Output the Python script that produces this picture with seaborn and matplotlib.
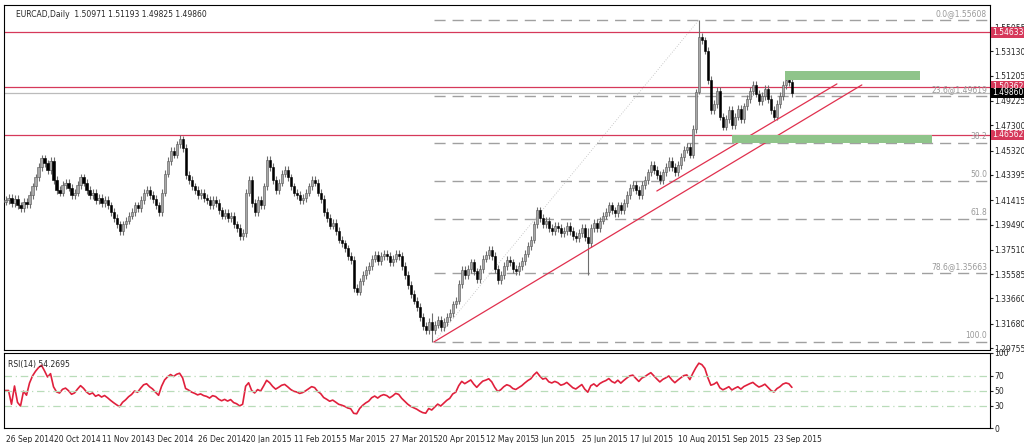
import numpy as np
import pandas as pd
import matplotlib
matplotlib.use("Agg")
import matplotlib.pyplot as plt
import seaborn as sns

############ data ############
closes = [
    1.414, 1.416, 1.412, 1.415, 1.410, 1.408, 1.413, 1.411, 1.418, 1.425, 1.432,
    1.440, 1.447, 1.443, 1.438, 1.445, 1.430,
    1.422, 1.420, 1.426, 1.428, 1.424, 1.418, 1.420, 1.426, 1.432, 1.428, 1.422, 1.418, 1.420, 1.414, 1.416, 1.412, 1.414,
    1.410, 1.405, 1.400, 1.395, 1.390, 1.395, 1.398, 1.402, 1.405, 1.410, 1.408, 1.414,
    1.420, 1.422, 1.418, 1.415, 1.410, 1.405, 1.420, 1.435, 1.445, 1.453, 1.450, 1.458, 1.462,
    1.455, 1.434, 1.430, 1.425, 1.422, 1.418, 1.420, 1.416, 1.414, 1.410, 1.414, 1.412, 1.406, 1.402, 1.404, 1.400, 1.402, 1.395, 1.392, 1.386, 1.388, 1.420,
    1.430, 1.412, 1.405, 1.414, 1.410, 1.425, 1.446, 1.440, 1.430, 1.422, 1.428, 1.435, 1.438, 1.432, 1.425, 1.420, 1.418, 1.414, 1.416, 1.420,
    1.425, 1.430, 1.428, 1.420, 1.415, 1.405, 1.400, 1.394, 1.396, 1.390, 1.383, 1.380, 1.376,
    1.370, 1.367, 1.345, 1.342, 1.350, 1.355, 1.359, 1.362, 1.368, 1.371, 1.366, 1.370, 1.372, 1.370, 1.365, 1.368, 1.372, 1.370, 1.362, 1.355, 1.347, 1.340, 1.335, 1.330, 1.322, 1.315, 1.312,
    1.318, 1.312, 1.316, 1.320, 1.314, 1.318, 1.322, 1.325, 1.332, 1.335, 1.348, 1.359,
    1.355, 1.360, 1.365, 1.358, 1.352, 1.360, 1.368, 1.371, 1.375, 1.370, 1.360, 1.351, 1.355, 1.362, 1.367, 1.365, 1.360, 1.358, 1.362, 1.366, 1.372, 1.378, 1.383, 1.395, 1.406, 1.400, 1.395, 1.398,
    1.392, 1.390, 1.394, 1.392, 1.388, 1.390, 1.394, 1.390, 1.386, 1.384, 1.388, 1.392, 1.385, 1.380, 1.392,
    1.396, 1.392, 1.398, 1.402, 1.405, 1.410, 1.406, 1.404, 1.410, 1.406, 1.412, 1.418, 1.424, 1.426, 1.422, 1.418, 1.426, 1.430, 1.436, 1.442,
    1.438, 1.434, 1.430, 1.436, 1.440, 1.445, 1.440, 1.436, 1.442, 1.448, 1.454, 1.456, 1.450, 1.470,
    1.499, 1.543, 1.540, 1.532, 1.509, 1.485, 1.490, 1.500, 1.480, 1.472, 1.478,
    1.485, 1.473, 1.480, 1.486, 1.478, 1.488, 1.494, 1.500, 1.505, 1.498, 1.492, 1.496, 1.502, 1.494, 1.485, 1.480, 1.490, 1.496, 1.505, 1.509, 1.507, 1.4986,
]
first_open = 1.413
# a few candles with long wicks: index -> (high, low)
wick_override = {58: (1.46562, 1.455), 142: (1.325, 1.3023), 194: (1.392, 1.355), 231: (1.55608, 1.498)}

date_labels = ["26 Sep 2014", "20 Oct 2014", "11 Nov 2014", "3 Dec 2014", "26 Dec 2014",
               "20 Jan 2015", "11 Feb 2015", "5 Mar 2015", "27 Mar 2015", "20 Apr 2015",
               "12 May 2015", "3 Jun 2015", "25 Jun 2015", "17 Jul 2015", "10 Aug 2015",
               "1 Sep 2015", "23 Sep 2015"]
price_ticks = [1.55055, 1.53130, 1.51205, 1.49225, 1.47300, 1.45320, 1.43395, 1.41415,
               1.39490, 1.37510, 1.35585, 1.33660, 1.31680, 1.29755]
red_levels = [1.54633, 1.50362, 1.46562]
last_price = 1.49860
fib_high, fib_low = 1.55608, 1.30231
fib_levels = [0.0, 23.6, 38.2, 50.0, 61.8, 78.6, 100.0]
fib_text = ["0.0@1.55608", "23.6@1.49619", "38.2", "50.0", "61.8", "78.6@1.35663", "100.0"]
trend_a = [(142.7, 1.3023), (285.3, 1.5049)]
trend_b = [(217.0, 1.4213), (277.0, 1.5057)]
zones = [(259.7, 304.7, 1.5088, 1.5160), (242.0, 308.7, 1.4592, 1.4655)]

############ build candles ############
df = pd.DataFrame({"close": closes})
df["open"] = [first_open] + closes[:-1]
df["high"] = df[["open", "close"]].max(axis=1) + 0.003
df["low"] = df[["open", "close"]].min(axis=1) - 0.003
for i, (h, l) in wick_override.items():
    df.loc[i, "high"] = h
    df.loc[i, "low"] = l
df["x"] = np.arange(len(df))

# RSI(14), Wilder smoothing
delta = df["close"].diff().fillna(0)
gain = delta.clip(lower=0).ewm(alpha=1 / 14, adjust=True).mean()
loss = (-delta.clip(upper=0)).ewm(alpha=1 / 14, adjust=True).mean()
df["rsi"] = (100 - 100 / (1 + gain / loss.replace(0, np.nan))).fillna(50)

############ plotting ############
sns.set_style("white")
plt.rcParams["font.family"] = ["DejaVu Sans"]
fs = 5.5
fig = plt.figure(figsize=(10.24, 4.43), dpi=100)
ax = fig.add_axes([4 / 1024, 93 / 443, 986 / 1024, 345 / 443])
ax2 = fig.add_axes([4 / 1024, 15 / 443, 986 / 1024, 75 / 443])
xmax = 328

ax.vlines(df["x"], df["low"], df["high"], color="#6e6e6e", lw=0.8, zorder=3)
up = df["close"] >= df["open"]
ax.bar(df["x"][up], (df["close"] - df["open"])[up], bottom=df["open"][up],
       width=0.7, color="#a8a8a8", edgecolor="#555555", lw=0.4, zorder=4)
ax.bar(df["x"][~up], (df["open"] - df["close"])[~up], bottom=df["close"][~up],
       width=0.7, color="black", edgecolor="black", lw=0.4, zorder=4)

for lv in red_levels:
    ax.axhline(lv, color="#d6385a", lw=0.9, zorder=2)
ax.axhline(last_price, color="#bbbbbb", lw=0.9, zorder=2)

rng = fib_high - fib_low
for lv, txt in zip(fib_levels, fib_text):
    p = fib_high - lv / 100 * rng
    ax.hlines(p, 142.7, xmax - 1, color="#a0a0a0", lw=1, linestyles=(0, (8, 5)), zorder=1)
    ax.text(xmax - 1, p + 0.0015, txt, ha="right", va="bottom", fontsize=fs, color="#999999")
ax.plot([142.7, 231], [fib_low, fib_high], color="#bbbbbb", lw=0.6, ls=(0, (1, 2)), zorder=1)

for (x0, y0), (x1, y1) in [trend_a, trend_b]:
    ax.plot([x0, x1], [y0, y1], color="#e0304e", lw=0.9, zorder=5)
for x0, x1, y0, y1 in zones:
    ax.fill_between([x0, x1], y0, y1, color="#8fc48a", lw=0, zorder=6)

ax.set_xlim(-0.5, xmax)
ax.set_ylim(1.2960, 1.5679)
ax.yaxis.tick_right()
ax.set_yticks(price_ticks)
ax.set_yticklabels([f"{t:.5f}" for t in price_ticks], fontsize=fs)
ax.set_xticks([])
ax.tick_params(axis="y", length=2, pad=1)
for lv, c in [(1.54633, "#d6385a"), (1.50362, "#d6385a"), (last_price, "black"), (1.46562, "#d6385a")]:
    ax.text(1.002, (lv - 1.2960) / (1.5679 - 1.2960), f"{lv:.5f}", transform=ax.transAxes,
            fontsize=fs, color="white", va="center", ha="left",
            bbox=dict(boxstyle="square,pad=0.1", fc=c, ec="none"))
ax.text(0.012, 0.985, "EURCAD,Daily  1.50971 1.51193 1.49825 1.49860", transform=ax.transAxes,
        fontsize=fs, va="top")

sns.lineplot(data=df, x="x", y="rsi", ax=ax2, color="#e0203c", lw=1.2)
for lv in [70, 50, 30]:
    ax2.axhline(lv, color="#b9dcb9", lw=0.9, ls=(0, (6, 3, 1, 3)))
ax2.set_xlim(-0.5, xmax)
ax2.set_ylim(0, 100)
ax2.yaxis.tick_right()
ax2.set_yticks([0, 30, 50, 70, 100])
ax2.set_yticklabels(["0", "30", "50", "70", "100"], fontsize=fs)
ax2.set_xlabel("")
ax2.set_ylabel("")
ax2.tick_params(axis="y", length=2, pad=1)
ax2.set_xticks(np.arange(len(date_labels)) * 16)
ax2.set_xticklabels(date_labels, fontsize=fs, ha="left")
ax2.tick_params(axis="x", length=3, pad=2)
ax2.text(0.004, 0.9, "RSI(14) 54.2695", transform=ax2.transAxes, fontsize=fs, va="top")

for a in (ax, ax2):
    for s in a.spines.values():
        s.set_color("black")
        s.set_linewidth(0.8)

fig.savefig("out.png", dpi=100)
